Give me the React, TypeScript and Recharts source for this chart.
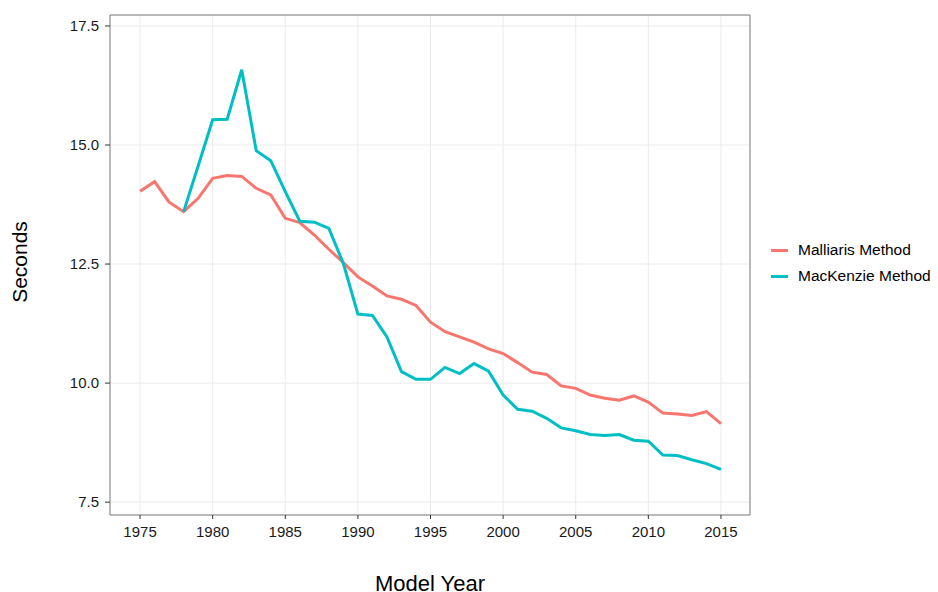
import React from 'react';
import { LineChart, Line, XAxis, YAxis, CartesianGrid, ReferenceArea, Label } from 'recharts';

const YEARS = [
  1975, 1976, 1977, 1978, 1979, 1980, 1981, 1982, 1983, 1984,
  1985, 1986, 1987, 1988, 1989, 1990, 1991, 1992, 1993, 1994,
  1995, 1996, 1997, 1998, 1999, 2000, 2001, 2002, 2003, 2004,
  2005, 2006, 2007, 2008, 2009, 2010, 2011, 2012, 2013, 2014, 2015,
];

// starts 1975
const MALLIARIS = [
  14.03, 14.23, 13.8, 13.6, 13.88, 14.3, 14.36, 14.34, 14.09, 13.95,
  13.46, 13.37, 13.11, 12.81, 12.53, 12.23, 12.04, 11.83, 11.76, 11.63,
  11.28, 11.08, 10.97, 10.86, 10.72, 10.62, 10.43, 10.23, 10.18, 9.94,
  9.89, 9.75, 9.68, 9.64, 9.73, 9.6, 9.37, 9.35, 9.32, 9.4, 9.15,
];

// starts 1978
const MACKENZIE = [
  13.6, 14.56, 15.53, 15.54, 16.58, 14.88, 14.67,
  14.02, 13.4, 13.38, 13.25, 12.51, 11.45, 11.42, 10.97, 10.24, 10.08,
  10.08, 10.33, 10.2, 10.41, 10.25, 9.75, 9.45, 9.41, 9.26, 9.06,
  9.0, 8.92, 8.9, 8.92, 8.8, 8.78, 8.49, 8.48, 8.39, 8.31, 8.19,
];
const MACKENZIE_START = 1978;

const X_TICKS = [1975, 1980, 1985, 1990, 1995, 2000, 2005, 2010, 2015];
const Y_TICKS = [7.5, 10, 12.5, 15, 17.5];

const SERIES = [
  { key: 'malliaris', name: 'Malliaris Method', color: '#F8766D' },
  { key: 'mackenzie', name: 'MacKenzie Method', color: '#00BFC4' },
];

const X_DOMAIN = [1972.93, 2017.0];
const Y_DOMAIN = [7.23, 17.73];

const data = YEARS.map((year, i) => {
  const j = year - MACKENZIE_START;
  return {
    year,
    malliaris: MALLIARIS[i],
    mackenzie: j >= 0 ? MACKENZIE[j] : null,
  };
});

const FONT = '"Liberation Sans", Arial, sans-serif';

export default function App() {
  return (
    <div style={{ position: 'absolute', left: 0, top: 0, width: 938, height: 592, background: '#fff', fontFamily: FONT }}>
      <LineChart width={938} height={592} data={data} margin={{ top: 15, right: 188, bottom: 0, left: 0 }}>
        <CartesianGrid stroke="#ebebeb" strokeWidth={1} />
        <XAxis
          dataKey="year"
          type="number"
          domain={X_DOMAIN}
          ticks={X_TICKS}
          allowDataOverflow
          height={77}
          axisLine={false}
          tickSize={4}
          tickMargin={7}
          tickLine={{ stroke: '#333' }}
          tick={{ fill: '#1a1a1a', fontSize: 15, fontFamily: FONT }}
        >
          <Label
            content={() => (
              <text x={430} y={591} textAnchor="middle" fontSize={22} fill="#000" fontFamily={FONT}>
                Model Year
              </text>
            )}
          />
        </XAxis>
        <YAxis
          type="number"
          domain={Y_DOMAIN}
          ticks={Y_TICKS}
          allowDataOverflow
          width={110}
          axisLine={false}
          tickSize={5}
          tickMargin={6}
          tickLine={{ stroke: '#333' }}
          tickFormatter={(v: number) => v.toFixed(1)}
          tick={{ fill: '#1a1a1a', fontSize: 15, fontFamily: FONT }}
        >
          <Label
            content={() => (
              <text x={27} y={262} textAnchor="middle" fontSize={21} fill="#000" fontFamily={FONT} transform="rotate(-90 27 262)">
                Seconds
              </text>
            )}
          />
        </YAxis>
        <ReferenceArea
          x1={X_DOMAIN[0]}
          x2={X_DOMAIN[1]}
          y1={Y_DOMAIN[0]}
          y2={Y_DOMAIN[1]}
          fill="none"
          stroke="#7f7f7f"
          strokeWidth={1}
          ifOverflow="visible"
        />
        {SERIES.map(s => (
          <Line
            key={s.key}
            dataKey={s.key}
            name={s.name}
            stroke={s.color}
            strokeWidth={3}
            dot={false}
            activeDot={false}
            type="linear"
            connectNulls={false}
            isAnimationActive={false}
          />
        ))}
      </LineChart>
      <div style={{ position: 'absolute', left: 771, top: 237 }}>
        {SERIES.map(s => (
          <div key={s.key} style={{ display: 'flex', alignItems: 'center', height: 26 }}>
            <div style={{ width: 17, height: 3, background: s.color, marginRight: 10 }} />
            <span style={{ fontSize: 15.5, color: '#000', whiteSpace: 'nowrap' }}>{s.name}</span>
          </div>
        ))}
      </div>
    </div>
  );
}
